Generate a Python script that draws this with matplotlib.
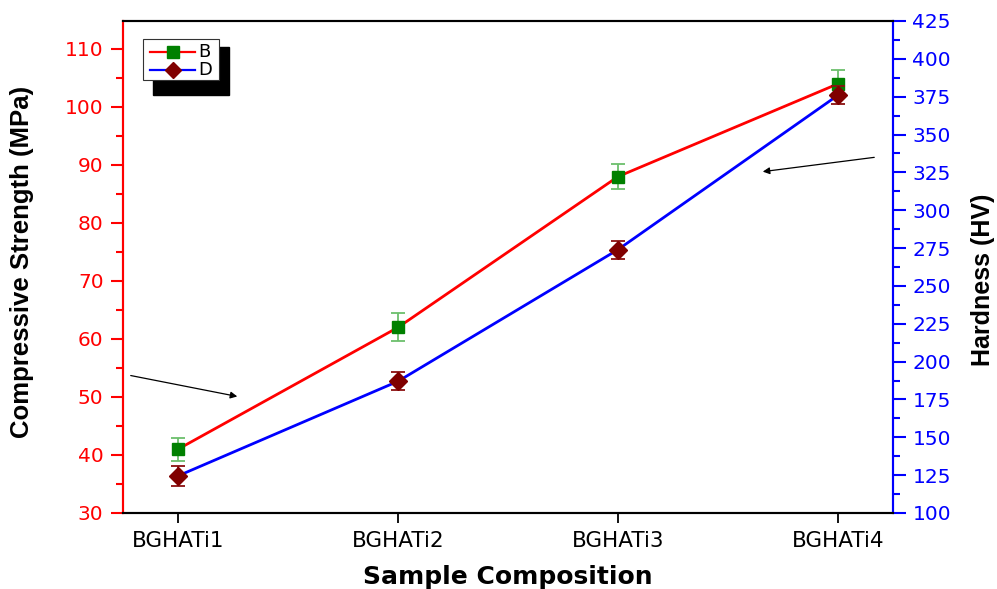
import matplotlib
matplotlib.use("Agg")
import matplotlib.pyplot as plt
from matplotlib.ticker import MultipleLocator
from matplotlib.patches import Rectangle
from matplotlib.lines import Line2D

plt.rcParams['font.family'] = ['DejaVu Sans']

samples = ["BGHATi1", "BGHATi2", "BGHATi3", "BGHATi4"]
strength = [41.0, 62.0, 88.0, 104.0]
strength_err = [2.0, 2.4, 2.2, 2.4]
hardness = [124.5, 187.0, 274.0, 376.0]
hardness_err = [6.5, 6.0, 6.0, 6.0]

x = list(range(1, len(samples) + 1))

W, H = 997, 589
fig = plt.figure(figsize=(W / 100, H / 100), dpi=100)
ax = fig.add_axes([123 / W, 1 - 513 / H, 770 / W, 492 / H])
ax2 = ax.twinx()

# Compressive strength (left axis)
ax.errorbar(x, strength, yerr=strength_err, fmt='none', ecolor='#6cbf6c',
            elinewidth=1.3, capsize=5, capthick=1.3, zorder=2)
ax.plot(x, strength, color='red', lw=2, zorder=3)
ax.plot(x, strength, ls='none', marker='s', ms=9, mfc='green', mec='green', zorder=4)

# Hardness (right axis)
ax2.errorbar(x, hardness, yerr=hardness_err, fmt='none', ecolor='#8b1010',
             elinewidth=1.3, capsize=5, capthick=1.3, zorder=2)
ax2.plot(x, hardness, color='blue', lw=2, zorder=3)
ax2.plot(x, hardness, ls='none', marker='D', ms=9.5, mfc='#800000', mec='#800000', zorder=4)

ax.set_xlim(0.75, 4.25)
ax.set_ylim(30, 30 + 492 / 58 * 10)
ax2.set_ylim(100, 425)

ax.set_xticks(x)
ax.set_xticklabels(samples)
ax.set_yticks([30, 40, 50, 60, 70, 80, 90, 100, 110])
ax.yaxis.set_minor_locator(MultipleLocator(5))
ax2.yaxis.set_major_locator(MultipleLocator(25))
ax2.yaxis.set_minor_locator(MultipleLocator(12.5))

ax.tick_params(axis='y', colors='red', labelsize=14.5, length=9, width=1.5, direction='out', pad=5)
ax.tick_params(axis='y', which='minor', colors='red', length=5, width=1.5)
ax.tick_params(axis='x', colors='black', labelsize=15.5, length=7, width=1.3, direction='out', pad=6)
ax2.tick_params(axis='y', colors='blue', labelsize=14.5, length=9, width=1.5, direction='out', pad=5)
ax2.tick_params(axis='y', which='minor', colors='blue', length=5, width=1.5)

for a in (ax, ax2):
    a.spines['left'].set_color('red')
    a.spines['right'].set_color('blue')
    a.spines['top'].set_color('black')
    a.spines['bottom'].set_color('black')
    for s in a.spines.values():
        s.set_linewidth(1.5)

ax.set_xlabel("Sample Composition", fontsize=18, fontweight='bold', labelpad=10)
ax.set_ylabel("Compressive Strength (MPa)", fontsize=18.5, fontweight='bold', labelpad=22,
              family='Liberation Sans')
ax2.set_ylabel("Hardness (HV)", fontsize=18, fontweight='bold', labelpad=14,
               family='Liberation Sans')
ax.yaxis.label.set_y(0.51)
ax2.yaxis.label.set_y(0.474)

# Arrows pointing each curve to its own axis
ax.annotate("", xy=(240 / W, 1 - 397 / H), xytext=(128 / W, 1 - 375 / H),
            xycoords='figure fraction', textcoords='figure fraction',
            arrowprops=dict(arrowstyle='-|>', color='black', lw=0.9, mutation_scale=10))
ax.annotate("", xy=(760 / W, 1 - 172 / H), xytext=(877 / W, 1 - 157 / H),
            xycoords='figure fraction', textcoords='figure fraction',
            arrowprops=dict(arrowstyle='-|>', color='black', lw=0.9, mutation_scale=10))

# Legend box with drop shadow
fig.patches.append(Rectangle((153 / W, 1 - 95 / H), 76 / W, 48 / H,
                             transform=fig.transFigure, facecolor='black', edgecolor='black', zorder=5))
fig.patches.append(Rectangle((143 / W, 1 - 80 / H), 76 / W, 41 / H,
                             transform=fig.transFigure, facecolor='white', edgecolor='#333333',
                             lw=0.8, zorder=6))
entries = [("B", 'red', 's', 'green', 8.5, 52), ("D", 'blue', 'D', '#800000', 8.5, 70)]
for name, lc, mk, mc, ms, yp in entries:
    yy = 1 - yp / H
    fig.add_artist(Line2D([150 / W, 195 / W], [yy, yy], color=lc, lw=1.6,
                          transform=fig.transFigure, zorder=7))
    fig.add_artist(Line2D([173 / W], [yy], marker=mk, ms=ms, mfc=mc, mec=mc,
                          transform=fig.transFigure, zorder=8))
    fig.text(198 / W, yy, name, fontsize=13, va='center', ha='left', zorder=8)

fig.savefig("out.png", dpi=100)
